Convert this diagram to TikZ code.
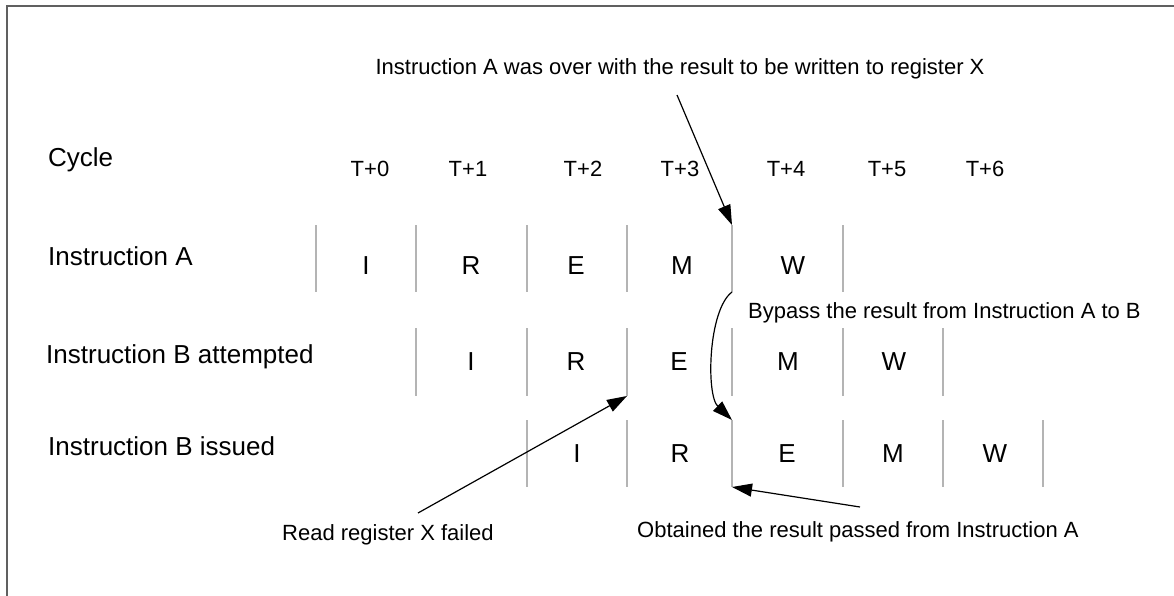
\documentclass[tikz,border=0pt]{standalone}
\usepackage{fontspec}
\setmainfont{Liberation Sans}
\usetikzlibrary{arrows.meta}

\definecolor{sepgray}{HTML}{B4B4B4}
\definecolor{framegray}{HTML}{606060}

\begin{document}
\begin{tikzpicture}[
      x=1pt, y=-1pt,
      lbl/.style={
        inner sep=0pt,
        anchor=base west,
        font=\fontsize{26}{30}\selectfont
      },
      note/.style={
        inner sep=0pt,
        anchor=base west,
        font=\fontsize{22}{26}\selectfont
      },
      stage/.style={
        inner sep=0pt,
        anchor=base,
        font=\fontsize{26}{30}\selectfont
      },
      cyc/.style={
        inner sep=0pt,
        anchor=base,
        font=\fontsize{22}{26}\selectfont
      },
      sep/.style={line width=1.5pt, draw=sepgray},
      pass/.style={line width=1.2pt, -{Triangle[length=20pt,width=13pt]}}
    ]

    \useasboundingbox (0,0) rectangle (1174,596);
    \clip (0,0) rectangle (1174,596);

    % Frame
    \draw[framegray, line width=2pt] (7,620) -- (7,6) -- (1200,6);

    % Notes
    \node[cyc] (NoteOver) at (680,75) {Instruction A was over with the result to be written to register X};
    \node[note] (NoteBypass) at (748,318) {Bypass the result from Instruction A to B};
    \node[note] (NoteFailed) at (282,540) {Read register X failed};
    \node[note] (NoteObtained) at (637,537) {Obtained the result passed from Instruction A};

    % Cycles
    \node[lbl] (Cycle) at (48,167) {Cycle};
    \node[cyc] (T0) at (370,176) {T+0};
    \node[cyc] (T1) at (468,176) {T+1};
    \node[cyc] (T2) at (583,176) {T+2};
    \node[cyc] (T3) at (680,176) {T+3};
    \node[cyc] (T4) at (786,176) {T+4};
    \node[cyc] (T5) at (887,176) {T+5};
    \node[cyc] (T6) at (985,176) {T+6};

    % Row labels
    \node[lbl] (InstrA) at (48,265) {Instruction A};
    \node[lbl] (InstrBtry) at (46,363) {Instruction B attempted};
    \node[lbl] (InstrBiss) at (48,455) {Instruction B issued};

    % Separators of instruction A
    \coordinate (A5top) at (732,225);
    \coordinate (A5bot) at (732,292);
    \draw[sep] (316,225) -- (316,292);
    \draw[sep] (416,225) -- (416,292);
    \draw[sep] (527,225) -- (527,292);
    \draw[sep] (627,225) -- (627,292);
    \draw[sep] (A5top) -- (A5bot);
    \draw[sep] (843,225) -- (843,292);

    % Separators of instruction B attempted
    \coordinate (B3bot) at (627,396);
    \draw[sep] (416,328) -- (416,396);
    \draw[sep] (527,328) -- (527,396);
    \draw[sep] (627,328) -- (B3bot);
    \draw[sep] (732,328) -- (732,396);
    \draw[sep] (843,328) -- (843,396);
    \draw[sep] (943,328) -- (943,396);

    % Separators of instruction B issued
    \coordinate (C3top) at (732,420);
    \coordinate (C3bot) at (732,487);
    \draw[sep] (527,420) -- (527,487);
    \draw[sep] (627,420) -- (627,487);
    \draw[sep] (C3top) -- (C3bot);
    \draw[sep] (843,420) -- (843,487);
    \draw[sep] (943,420) -- (943,487);
    \draw[sep] (1043,420) -- (1043,487);

    % Stages of instruction A
    \node[stage] (AI) at (366,274) {I};
    \node[stage] (AR) at (471,274) {R};
    \node[stage] (AE) at (576,274) {E};
    \node[stage] (AM) at (682,274) {M};
    \node[stage] (AW) at (793,274) {W};

    % Stages of instruction B attempted
    \node[stage] (BI) at (471,370) {I};
    \node[stage] (BR) at (576,370) {R};
    \node[stage] (BE) at (679,370) {E};
    \node[stage] (BM) at (788,370) {M};
    \node[stage] (BW) at (894,370) {W};

    % Stages of instruction B issued
    \node[stage] (CI) at (577,462) {I};
    \node[stage] (CR) at (680,462) {R};
    \node[stage] (CE) at (787,462) {E};
    \node[stage] (CM) at (893,462) {M};
    \node[stage] (CW) at (995,462) {W};

    % Arrows
    \coordinate (OverFrom) at (677,95);
    \coordinate (FailedFrom) at (418,513);
    \coordinate (ObtainedFrom) at (860,507);
    \draw[pass] (OverFrom) -- (A5top);
    \draw[pass] (A5bot) .. controls (708,310) and (706,395) .. (C3top);
    \draw[pass] (FailedFrom) -- (B3bot);
    \draw[pass] (ObtainedFrom) -- (C3bot);
\end{tikzpicture}
\end{document}
